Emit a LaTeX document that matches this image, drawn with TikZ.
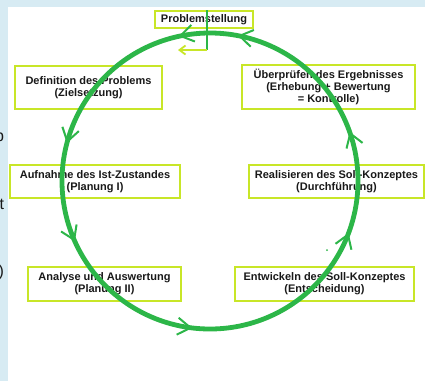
\documentclass[tikz,border=0pt]{standalone}
\usepackage{fontspec}
\setmainfont{Liberation Sans}
\usepackage{xcolor}
\usetikzlibrary{positioning,arrows.meta,decorations.markings}
\definecolor{hgblau}{RGB}{215,235,243}
\definecolor{kreisgruen}{RGB}{44,182,72}
\definecolor{rahmengelb}{RGB}{200,230,40}
\definecolor{schrift}{RGB}{25,25,25}

\begin{document}
\begin{tikzpicture}[x=1pt,y=1pt,font=\bfseries\fontsize{11}{12.3}\selectfont,
  feld/.style={draw=rahmengelb,line width=1.8pt,text=schrift,align=center,inner sep=0pt},
  spitze/.tip={Straight Barb[length=13pt,width=17pt,line width=2pt]},
  kreis/.style={draw=kreisgruen,line width=4.8pt,postaction={decorate},
    decoration={markings,
      mark=at position 0.034 with {\arrow{spitze}},
      mark=at position 0.209 with {\arrow{spitze}},
      mark=at position 0.317 with {\arrow{spitze}},
      mark=at position 0.481 with {\arrow{spitze}},
      mark=at position 0.693 with {\arrow{spitze}},
      mark=at position 0.804 with {\arrow{spitze}},
      mark=at position 0.970 with {\arrow{spitze}}}}]
  % Hintergrund: blauer Rand links und oben, weisse Flaeche
  \useasboundingbox (0,0) rectangle (425,-381);
  \fill[hgblau] (0,0) rectangle (425,-381);
  \fill[white] (8,-7) rectangle (425,-381);
  \begin{scope}
    \clip (0,0) rectangle (8,-381);
    \node[anchor=east,font=\fontsize{16}{16}\selectfont,text=schrift] (rest1) at (7.5,-139) {p};
    \node[anchor=east,font=\fontsize{16}{16}\selectfont,text=schrift] (rest2) at (7.5,-204) {t};
    \node[anchor=east,font=\fontsize{16}{16}\selectfont,text=schrift] (rest3) at (7.5,-272) {l)};
  \end{scope}
  % die Phasen
  \node[feld,minimum width=98pt,minimum height=17pt] (ps) at (204,-19.5) {Problemstellung};
  \node[feld,minimum width=147pt,minimum height=43pt] (def) at (88.5,-87.5) {Definition des Problems\\(Zielsetzung)};
  \node[feld,minimum width=173pt,minimum height=44pt] (ueb) at (328.5,-87) {Überprüfen des Ergebnisses\\(Erhebung + Bewertung\\= Kontrolle)};
  \node[feld,minimum width=170pt,minimum height=33pt] (auf) at (95,-181.5) {Aufnahme des Ist-Zustandes\\(Planung I)};
  \node[feld,minimum width=175pt,minimum height=33pt] (real) at (336.5,-181.5) {Realisieren des Soll-Konzeptes\\(Durchführung)};
  \node[feld,minimum width=153pt,minimum height=34pt] (ana) at (104.5,-284) {Analyse und Auswertung\\(Planung II)};
  \node[feld,minimum width=179pt,minimum height=34pt] (ent) at (324.5,-284) {Entwickeln des Soll-Konzeptes\\(Entscheidung)};
  % Kreislauf gegen den Uhrzeigersinn
  \coordinate (mitte) at (210,-181);
  \draw[kreis] (mitte) ++(0,148) arc[start angle=90,end angle=450,radius=148pt];
  \fill[kreisgruen] (327,-250) circle (1pt);
  % Einstieg von der Problemstellung
  \coordinate (knick) at (207,-50);
  \coordinate (ziel) at (178,-50);
  \draw[kreisgruen,line width=1.5pt] (ps.north -| knick) -- (knick);
  \draw[rahmengelb,line width=1.8pt,-{Straight Barb[length=6pt,width=9pt]}] (knick) -- (ziel);
\end{tikzpicture}
\end{document}
